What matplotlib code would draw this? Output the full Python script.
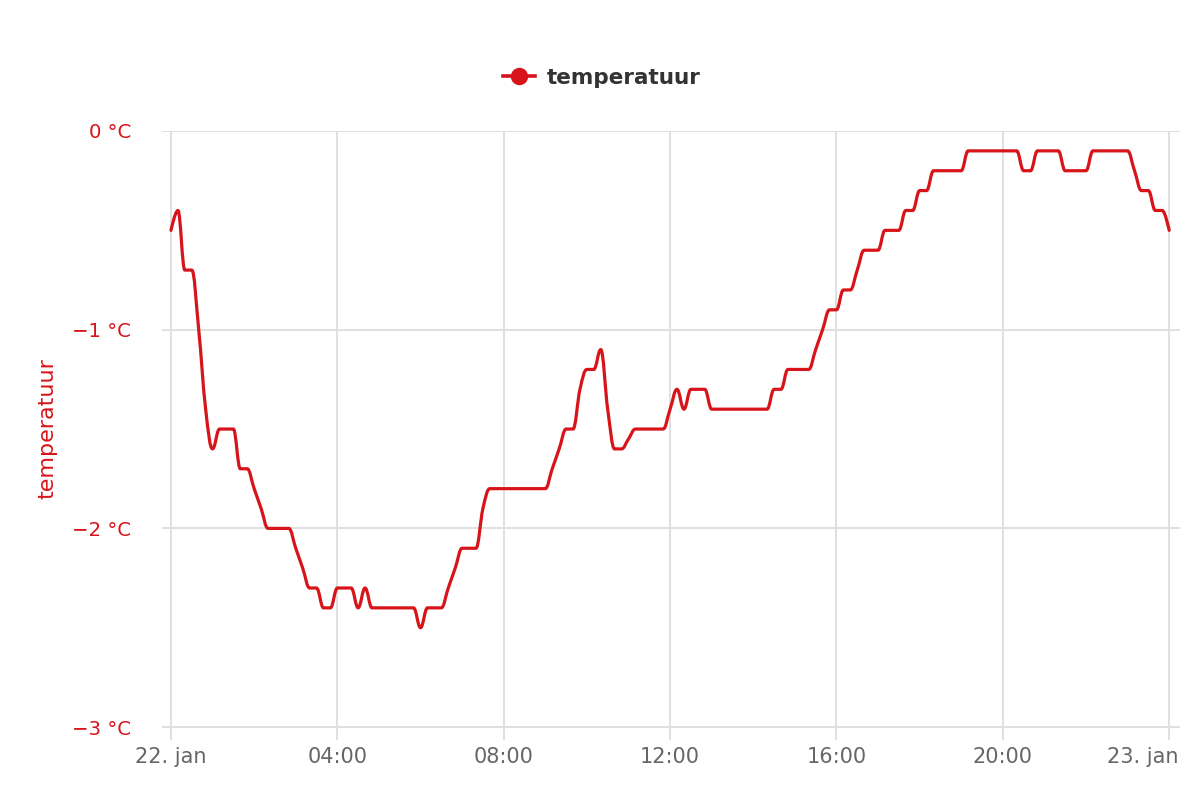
import numpy as np
import pandas as pd
import matplotlib
matplotlib.use("Agg")
import matplotlib.pyplot as plt
import matplotlib.dates as mdates
import matplotlib.transforms as mtransforms
from matplotlib.path import Path
from matplotlib.patches import PathPatch
from matplotlib.lines import Line2D

plt.rcParams['font.family'] = ['DejaVu Sans']

# temperature every 10 minutes, 22 jan 00:00 .. 23 jan 00:00
times = pd.date_range('2024-01-22 00:00', '2024-01-23 00:00', freq='10min')
temp = [
    -0.5, -0.4, -0.7, -0.7, -1.0, -1.4, -1.6, -1.5, -1.5, -1.5,   # 00:00
    -1.7, -1.7, -1.8, -1.9, -2.0, -2.0, -2.0, -2.0, -2.1, -2.2,   # 01:40
    -2.3, -2.3, -2.4, -2.4, -2.3, -2.3, -2.3, -2.4, -2.3, -2.4,   # 03:20
    -2.4, -2.4, -2.4, -2.4, -2.4, -2.4, -2.5, -2.4, -2.4, -2.4,   # 05:00
    -2.3, -2.2, -2.1, -2.1, -2.1, -1.9, -1.8, -1.8, -1.8, -1.8,   # 06:40
    -1.8, -1.8, -1.8, -1.8, -1.8, -1.7, -1.6, -1.5, -1.5, -1.3,   # 08:20
    -1.2, -1.2, -1.1, -1.4, -1.6, -1.6, -1.55, -1.5, -1.5, -1.5,  # 10:00
    -1.5, -1.5, -1.4, -1.3, -1.4, -1.3, -1.3, -1.3, -1.4, -1.4,   # 11:40
    -1.4, -1.4, -1.4, -1.4, -1.4, -1.4, -1.4, -1.3, -1.3, -1.2,   # 13:20
    -1.2, -1.2, -1.2, -1.1, -1.0, -0.9, -0.9, -0.8, -0.8, -0.7,   # 15:00
    -0.6, -0.6, -0.6, -0.5, -0.5, -0.5, -0.4, -0.4, -0.3, -0.3,   # 16:40
    -0.2, -0.2, -0.2, -0.2, -0.2, -0.1, -0.1, -0.1, -0.1, -0.1,   # 18:20
    -0.1, -0.1, -0.1, -0.2, -0.2, -0.1, -0.1, -0.1, -0.1, -0.2,   # 20:00
    -0.2, -0.2, -0.2, -0.1, -0.1, -0.1, -0.1, -0.1, -0.1, -0.2,   # 21:40
    -0.3, -0.3, -0.4, -0.4, -0.5,                                 # 23:20
]
y_ticks = [0, -1, -2, -3]
y_labels = ['0 °C', '\u22121 °C', '\u22122 °C', '\u22123 °C']

RED = '#d7141a'


def spline_path(xs, ys, smoothing=1.5):
    # highcharts style spline: bezier control points per point
    n = len(xs)
    left = [None] * n
    right = [None] * n
    d = smoothing + 1
    for i in range(1, n - 1):
        px, py = xs[i], ys[i]
        lx, ly = xs[i - 1], ys[i - 1]
        nx, ny = xs[i + 1], ys[i + 1]
        lcx = (smoothing * px + lx) / d
        lcy = (smoothing * py + ly) / d
        rcx = (smoothing * px + nx) / d
        rcy = (smoothing * py + ny) / d
        if rcx != lcx:
            corr = (rcy - lcy) * (rcx - px) / (rcx - lcx) + py - rcy
            lcy += corr
            rcy += corr
        if lcy > ly and lcy > py:
            lcy = max(ly, py); rcy = 2 * py - lcy
        elif lcy < ly and lcy < py:
            lcy = min(ly, py); rcy = 2 * py - lcy
        if rcy > ny and rcy > py:
            rcy = max(ny, py); lcy = 2 * py - rcy
        elif rcy < ny and rcy < py:
            rcy = min(ny, py); lcy = 2 * py - rcy
        left[i] = (lcx, lcy)
        right[i] = (rcx, rcy)
    verts = [(xs[0], ys[0])]
    codes = [Path.MOVETO]
    for i in range(1, n):
        c1 = right[i - 1] if right[i - 1] else (xs[i - 1], ys[i - 1])
        c2 = left[i] if left[i] else (xs[i], ys[i])
        verts += [c1, c2, (xs[i], ys[i])]
        codes += [Path.CURVE4] * 3
    return Path(verts, codes)


fig = plt.figure(figsize=(12, 8), dpi=100)
ax = fig.add_axes([162 / 1200, 1 - 740 / 800, 1018 / 1200, 609 / 800])

xnum = mdates.date2num(times)
path = spline_path(list(xnum), list(temp))
ax.add_patch(PathPatch(path, fill=False, edgecolor=RED, lw=2.3,
                       capstyle='round', joinstyle='round', zorder=3))

hour = 1 / 24
ax.set_xlim(xnum[0] - 0.216 * hour, xnum[-1] + 0.26 * hour)
ax.set_ylim(-3.065, 0)

ticks = pd.date_range('2024-01-22 00:00', '2024-01-23 00:00', freq='4h')
ax.set_xticks(mdates.date2num(ticks))
ax.set_xticklabels([f'{t.day}. jan' if t.hour == 0 else t.strftime('%H:%M') for t in ticks])
ax.set_yticks(y_ticks)
ax.set_yticklabels(y_labels)

ax.grid(True, color='#e0e0e0', lw=1.4)
ax.set_axisbelow(True)
for s in ax.spines.values():
    s.set_visible(False)
ax.tick_params(axis='x', length=0, pad=5, labelsize=15, labelcolor='#666666')
ax.tick_params(axis='y', length=0, pad=22, labelsize=14.2, labelcolor=RED)

# last label pushed inside the canvas, like the original
last = ax.get_xticklabels()[-1]
last.set_horizontalalignment('right')
last.set_transform(last.get_transform() +
                   mtransforms.ScaledTranslation(9 / 100, 0, fig.dpi_scale_trans))

ax.set_ylabel('temperatuur', color=RED, fontsize=16)
ax.yaxis.set_label_coords(-105 / 1018, 0.512)

handle = Line2D([], [], color=RED, lw=2.6, marker='o', markersize=11.5)
leg = fig.legend([handle], ['temperatuur'], loc='center',
                 bbox_to_anchor=(602 / 1200, 1 - 78 / 800), frameon=False,
                 handlelength=1.5, handletextpad=0.55,
                 prop={'weight': 'bold', 'size': 15.5})
for t in leg.get_texts():
    t.set_color('#333333')

fig.savefig('out.png', dpi=100)
